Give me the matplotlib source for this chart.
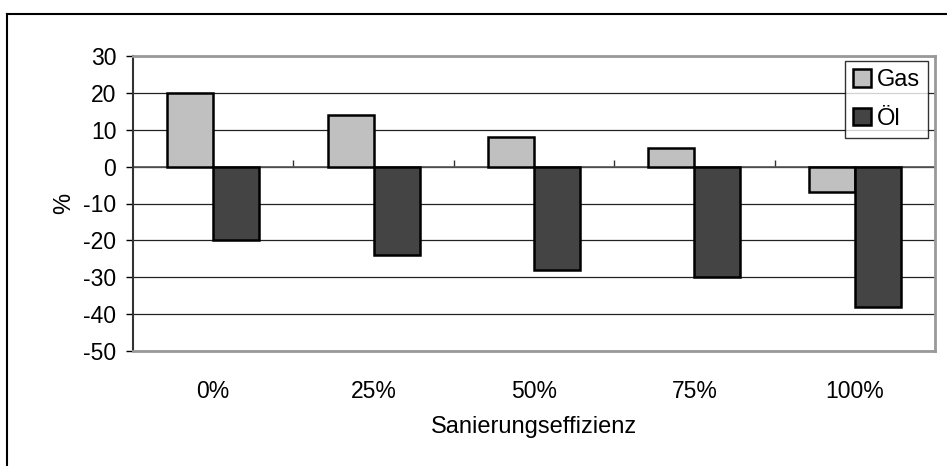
import numpy as np
import matplotlib
matplotlib.use("Agg")
import matplotlib.pyplot as plt
from matplotlib.lines import Line2D

plt.rcParams['font.family'] = ['Liberation Sans', 'DejaVu Sans']
plt.rcParams['axes.unicode_minus'] = False

# data
categories = ['0%', '25%', '50%', '75%', '100%']
gas = [20, 14, 8, 5, -7]
oel = [-20, -24, -28, -30, -38]
series_names = ['Gas', 'Öl']
yticks = [30, 20, 10, 0, -10, -20, -30, -40, -50]

fig = plt.figure(figsize=(9.47, 4.66), dpi=100)
ax = fig.add_axes([133/947, 1-351/466, (935-133)/947, (351-56)/466])

x = np.arange(len(categories))
w = 0.287
ax.bar(x - w/2, gas, w, color='#c0c0c0', edgecolor='black', linewidth=1.8,
       label=series_names[0], zorder=3)
ax.bar(x + w/2, oel, w, color='#444444', edgecolor='black', linewidth=1.8,
       label=series_names[1], zorder=3)

ax.set_xlim(-0.5, len(categories) - 0.5)
ax.set_ylim(-50, 30)
ax.set_yticks(yticks)
ax.yaxis.grid(True, color='#222222', linewidth=0.9, zorder=0)
ax.set_axisbelow(True)

ax.axhline(0, color='#555555', linewidth=1.2, zorder=2)

# little tick marks on the zero line between categories
sec = ax.secondary_xaxis(50/80)
sec.set_xticks(x[:-1] + 0.5)
sec.tick_params(axis='x', direction='out', length=5, width=1, labelbottom=False,
                labeltop=False, color='#333333')
sec.spines['bottom'].set_visible(False)
sec.spines['top'].set_visible(False)

for s in ['top', 'right', 'bottom']:
    ax.spines[s].set_color('#999999')
    ax.spines[s].set_linewidth(2)
ax.spines['left'].set_color('#333333')
ax.spines['left'].set_linewidth(1.5)

ax.set_xticks(x)
ax.set_xticklabels(categories)
ax.tick_params(axis='x', length=0, pad=21, labelsize=16.5)
ax.tick_params(axis='y', length=5, width=1, pad=7, labelsize=16.5)

ax.set_xlabel('Sanierungseffizienz', fontsize=17, labelpad=9)
ax.set_ylabel('%', fontsize=17, labelpad=6)

leg = ax.legend(loc='upper right', bbox_to_anchor=(928/947, 1-61/466),
                bbox_transform=fig.transFigure, fontsize=17, frameon=True,
                fancybox=False, edgecolor='black', handlelength=0.75,
                handleheight=0.75, handletextpad=0.25, borderpad=0.35,
                labelspacing=0.7, borderaxespad=0)
leg.get_frame().set_linewidth(1.0)

# outer chart frame (right and bottom edges outside the image)
fig.add_artist(Line2D([7/947, 7/947], [0, 1-14/466], color='black', linewidth=1.5))
fig.add_artist(Line2D([7/947, 1], [1-14/466, 1-14/466], color='black', linewidth=1.5))

fig.savefig('out.png', dpi=100)
